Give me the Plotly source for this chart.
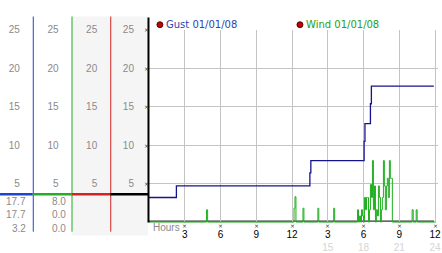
import plotly.graph_objects as go

W, H = 442, 253

# ---------------- data ----------------
gust_hours = [0.0, 2.3, 13.5, 13.58, 18.05, 18.12, 18.58, 18.66, 23.9]
gust_vals = [3.2, 4.7, 6.4, 8.0, 10.5, 12.8, 15.4, 17.7, 17.7]

wind_hours = [0.0, 4.83, 4.92, 12.17, 12.25, 12.33, 12.92, 13.0, 14.17, 14.25,
              15.5, 15.58,
              17.5, 17.58, 17.67, 17.75, 17.83, 17.92, 18.0, 18.08, 18.17, 18.25,
              18.33, 18.42, 18.5, 18.58, 18.67, 18.75, 18.83, 18.92, 19.0, 19.08,
              19.17, 19.25, 19.33, 19.42, 19.5, 19.58, 19.67, 19.75, 19.83, 19.92,
              20.0, 20.08, 20.17, 20.25, 20.33, 20.42,
              22.08, 22.17, 22.42, 22.5, 24.0]
wind_vals = [0.0, 1.6, 0.0, 1.8, 3.3, 0.0, 1.8, 0.0, 1.8, 0.0,
             1.8, 0.0,
             1.6, 0.0, 0.8, 0.0, 1.6, 0.8, 0.0, 3.2, 1.6, 3.2,
             3.2, 0.0, 1.6, 4.9, 3.2, 8.0, 1.6, 4.7, 0.0, 1.6,
             0.8, 4.7, 3.2, 0.0, 1.6, 3.2, 8.0, 4.7, 1.6, 4.7,
             5.7, 3.2, 8.0, 5.7, 5.7, 0.0,
             1.6, 0.0, 1.6, 0.0, 0.0]

series_names = ["Gust 01/01/08", "Wind 01/01/08"]
gust_stats = ["17.7", "17.7", "3.2"]
wind_stats = ["8.0", "0.0", "0.0"]

ytick_vals = [5, 10, 15, 20, 25]
xtick_vals = [3, 6, 9, 12, 15, 18, 21, 24]
xtick_top = ["3", "6", "9", "12", "3", "6", "9", "12"]
xtick_bottom = ["", "", "", "", "15", "18", "21", "24"]
x_title = "Hours"

# ---------------- styling ----------------
GUST_C = "#14148c"
WIND_C = "#1fae1f"
BLUE_L = "#1f45d0"
GREEN_L = "#22b022"
RED_L = "#d42222"
BLUE_T = "#2a44b0"
GREEN_T = "#22a022"
GRID = "#c4c4c4"
LBL = "#8a8a8a"
FONT = "Liberation Sans"

def px(p):
    return p / W

def py(p):
    return 1 - p / H

fig = go.Figure()

fig.add_trace(go.Scatter(x=wind_hours, y=wind_vals, mode="lines", line_shape="hv",
                         line=dict(color=WIND_C, width=1), showlegend=False,
                         hoverinfo="skip"))
fig.add_trace(go.Scatter(x=gust_hours, y=gust_vals, mode="lines", line_shape="hv",
                         line=dict(color=GUST_C, width=1.3), showlegend=False,
                         hoverinfo="skip"))

# dummy traces for overlay label axes
for ax in ["y2", "y3", "y4"]:
    fig.add_trace(go.Scatter(x=[None], y=[None], yaxis=ax, showlegend=False,
                             hoverinfo="skip"))

ticktext = [f"{t}<br><span style='color:#d4d4d4'>{b}</span>" if b else f"{t}<br> "
            for t, b in zip(xtick_top, xtick_bottom)]

yaxis_common = dict(range=[-0.125, 25.0], tickvals=ytick_vals,
                    zeroline=False, ticks="", showline=False,
                    tickfont=dict(family=FONT, size=10, color=LBL),
                    ticklabelstandoff=13, fixedrange=True)

fig.update_layout(
    width=W, height=H, margin=dict(l=0, r=0, t=0, b=0),
    paper_bgcolor="white", plot_bgcolor="white",
    xaxis=dict(domain=[px(149), px(441)], range=[-1 / 12, 24.25],
               tickvals=xtick_vals, ticktext=ticktext, showgrid=True,
               gridcolor=GRID, gridwidth=1, zeroline=False, ticks="",
               showline=False, tickfont=dict(family=FONT, size=10, color="#000"),
               ticklabelstandoff=4, ticklabeloverflow="allow"),
    yaxis=dict(domain=[py(227), py(26)], showgrid=True, gridcolor=GRID,
               **yaxis_common),
    yaxis2=dict(overlaying="y", anchor="free", position=px(33), side="left",
                showgrid=False, **yaxis_common),
    yaxis3=dict(overlaying="y", anchor="free", position=px(72), side="left",
                showgrid=False, **yaxis_common),
    yaxis4=dict(overlaying="y", anchor="free", position=px(111), side="left",
                showgrid=False, **yaxis_common),
    showlegend=False,
)

shapes = []
# shaded columns
shapes.append(dict(type="rect", xref="paper", yref="paper", x0=px(72), x1=px(149),
                   y0=py(240), y1=py(12), fillcolor="#f5f5f5", line_width=0,
                   layer="below"))
# column lines
for xp, c in [(33.5, BLUE_L), (72.5, GREEN_L), (111.5, RED_L)]:
    shapes.append(dict(type="line", xref="paper", yref="paper", x0=px(xp), x1=px(xp),
                       y0=py(236), y1=py(12), line=dict(color=c, width=1)))
# separator
for x0, x1, c in [(0, 33, BLUE_L), (33, 72, GREEN_L), (72, 111, RED_L),
                  (111, 149, "#000")]:
    shapes.append(dict(type="line", xref="paper", yref="paper", x0=px(x0), x1=px(x1),
                       y0=py(197), y1=py(197), line=dict(color=c, width=2.5)))
# main axes lines
shapes.append(dict(type="line", xref="paper", yref="paper", x0=px(149.5), x1=px(149.5),
                   y0=py(226.5), y1=py(13), line=dict(color="#000", width=2)))
shapes.append(dict(type="line", xref="paper", yref="paper", x0=px(149), x1=px(437),
                   y0=py(225), y1=py(225), line=dict(color="#000", width=1),
                   layer="below"))
# legend dots
for cx in [161, 302]:
    shapes.append(dict(type="circle", xref="paper", yref="paper",
                       x0=px(cx - 3), x1=px(cx + 3), y0=py(23.5), y1=py(17.5),
                       fillcolor="#c80000", line=dict(color="#500000", width=1)))
fig.update_layout(shapes=shapes)

ann = []
# tiny tick glyphs
for xv in xtick_vals:
    ann.append(dict(x=xv, y=py(229.5), xref="x", yref="paper", text="×",
                    showarrow=False, xanchor="center", yanchor="middle",
                    font=dict(family="DejaVu Sans", size=6, color="#333")))
for yv in ytick_vals:
    ann.append(dict(x=px(147), y=yv, xref="paper", yref="y", text="×",
                    showarrow=False, xanchor="center", yanchor="middle",
                    font=dict(family="DejaVu Sans", size=6, color="#333")))
ann.append(dict(x=px(165), y=py(20.5), xref="paper", yref="paper", text=series_names[0],
                showarrow=False, xanchor="left", yanchor="middle",
                font=dict(family="DejaVu Sans", size=10, color=BLUE_T)))
ann.append(dict(x=px(306), y=py(20.5), xref="paper", yref="paper", text=series_names[1],
                showarrow=False, xanchor="left", yanchor="middle",
                font=dict(family="DejaVu Sans", size=10, color=GREEN_T)))
for i, (g, w) in enumerate(zip(gust_stats, wind_stats)):
    yy = py(204.5 + 14 * i)
    ann.append(dict(x=px(28), y=yy, xref="paper", yref="paper", text=g, showarrow=False,
                    xanchor="right", yanchor="middle",
                    font=dict(family=FONT, size=10, color=LBL)))
    ann.append(dict(x=px(68), y=yy, xref="paper", yref="paper", text=w, showarrow=False,
                    xanchor="right", yanchor="middle",
                    font=dict(family=FONT, size=10, color=LBL)))
ann.append(dict(x=px(152), y=py(231.5), xref="paper", yref="paper", text=x_title,
                showarrow=False, xanchor="left", yanchor="middle",
                font=dict(family=FONT, size=10, color=LBL)))
fig.update_layout(annotations=ann)

fig.write_html("out.html")
